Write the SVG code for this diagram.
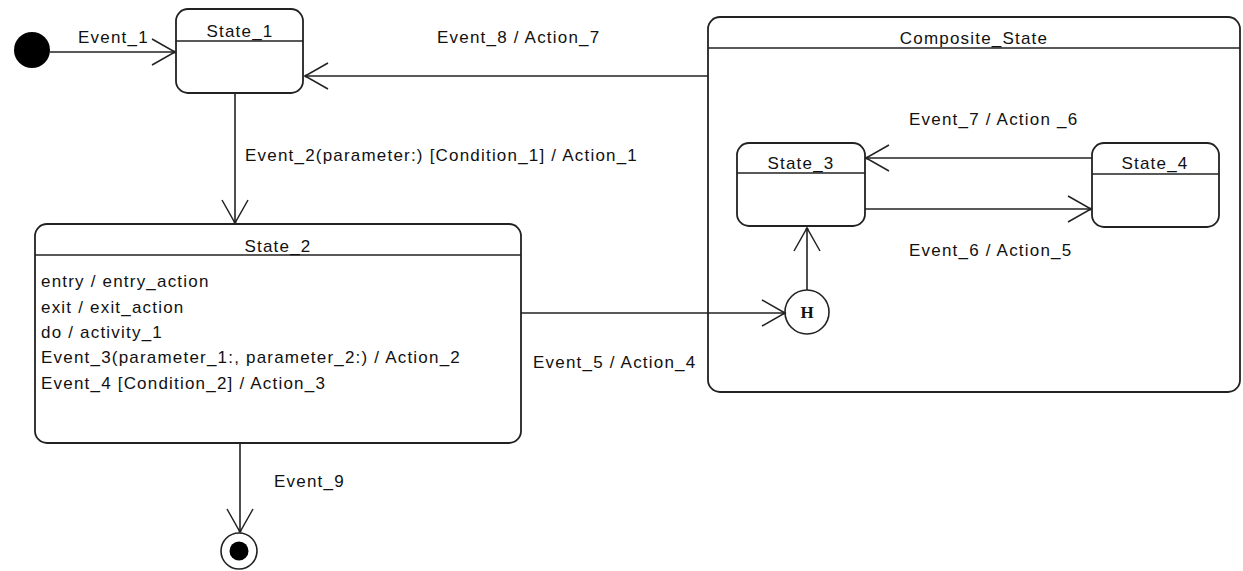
<svg xmlns="http://www.w3.org/2000/svg" width="1243" height="571" viewBox="0 0 1243 571">
<style>
text{font-family:"Liberation Sans",Arial,sans-serif;font-size:17px;letter-spacing:1.2px;fill:#111}
.box{fill:#fff;stroke:#222;stroke-width:1.8}
.div{stroke:#222;stroke-width:1.6}
.t{text-anchor:middle}
.c{fill:none;stroke:#222;stroke-width:1.6}
</style>
<defs>
<marker id="ah" markerUnits="userSpaceOnUse" markerWidth="30" markerHeight="30" viewBox="-26 -15 30 30" refX="0" refY="0" orient="auto">
<path d="M-23,-13 L0,0 L-23,13" fill="none" stroke="#222" stroke-width="1.5"/>
<circle cx="-1" cy="0" r="1.5" fill="#222"/>
</marker>
</defs>
<rect width="1243" height="571" fill="#fff"/>
<g id="initial"><circle cx="32" cy="50" r="18" fill="#000"/></g>
<g id="state1">
<rect class="box" x="176" y="9" width="127" height="84" rx="12"/>
<line class="div" x1="176" y1="41" x2="303" y2="41"/>
<text class="t" x="240" y="37">State_1</text>
</g>
<g id="state2">
<rect class="box" x="35" y="224" width="486" height="219" rx="12"/>
<line class="div" x1="35" y1="255" x2="521" y2="255"/>
<text class="t" x="278" y="252">State_2</text>
<text x="41" y="287">entry / entry_action</text>
<text x="41" y="313">exit / exit_action</text>
<text x="41" y="338">do / activity_1</text>
<text x="41" y="363">Event_3(parameter_1:, parameter_2:) / Action_2</text>
<text x="41" y="389">Event_4 [Condition_2] / Action_3</text>
</g>
<g id="composite">
<rect class="box" x="708" y="17" width="532" height="375" rx="12"/>
<line class="div" x1="708" y1="48" x2="1240" y2="48"/>
<text class="t" x="974" y="44">Composite_State</text>
</g>
<g id="state3">
<rect class="box" x="737" y="143" width="128" height="83" rx="12"/>
<line class="div" x1="737" y1="173" x2="865" y2="173"/>
<text class="t" x="801" y="169">State_3</text>
</g>
<g id="state4">
<rect class="box" x="1092" y="143" width="127" height="84" rx="12"/>
<line class="div" x1="1092" y1="174" x2="1219" y2="174"/>
<text class="t" x="1155" y="169">State_4</text>
</g>
<g id="history">
<circle cx="807" cy="312" r="22" fill="#fff" stroke="#222" stroke-width="1.6"/>
<text x="807" y="318" style="font-family:'Liberation Serif',serif;font-weight:bold;font-size:17px;letter-spacing:0;text-anchor:middle">H</text>
</g>
<g id="final">
<circle cx="239" cy="551" r="18" fill="#fff" stroke="#222" stroke-width="1.6"/>
<circle cx="239" cy="551" r="9.5" fill="#000"/>
</g>
<g id="connectors">
<line class="c" x1="50" y1="52" x2="175" y2="52" marker-end="url(#ah)"/>
<line class="c" x1="235" y1="93" x2="235" y2="223" marker-end="url(#ah)"/>
<line class="c" x1="708" y1="76" x2="305" y2="76" marker-end="url(#ah)"/>
<line class="c" x1="1092" y1="158" x2="866" y2="158" marker-end="url(#ah)"/>
<line class="c" x1="865" y1="209" x2="1091" y2="209" marker-end="url(#ah)"/>
<line class="c" x1="807" y1="290" x2="807" y2="228" marker-end="url(#ah)"/>
<line class="c" x1="521" y1="313" x2="785" y2="313" marker-end="url(#ah)"/>
<line class="c" x1="240" y1="443" x2="240" y2="532" marker-end="url(#ah)"/>
</g>
<g id="labels">
<text x="78" y="43">Event_1</text>
<text x="245" y="161">Event_2(parameter:) [Condition_1] / Action_1</text>
<text x="437" y="43">Event_8 / Action_7</text>
<text x="909" y="125">Event_7 / Action _6</text>
<text x="909" y="256">Event_6 / Action_5</text>
<text x="533" y="368">Event_5 / Action_4</text>
<text x="274" y="487">Event_9</text>
</g>
</svg>
